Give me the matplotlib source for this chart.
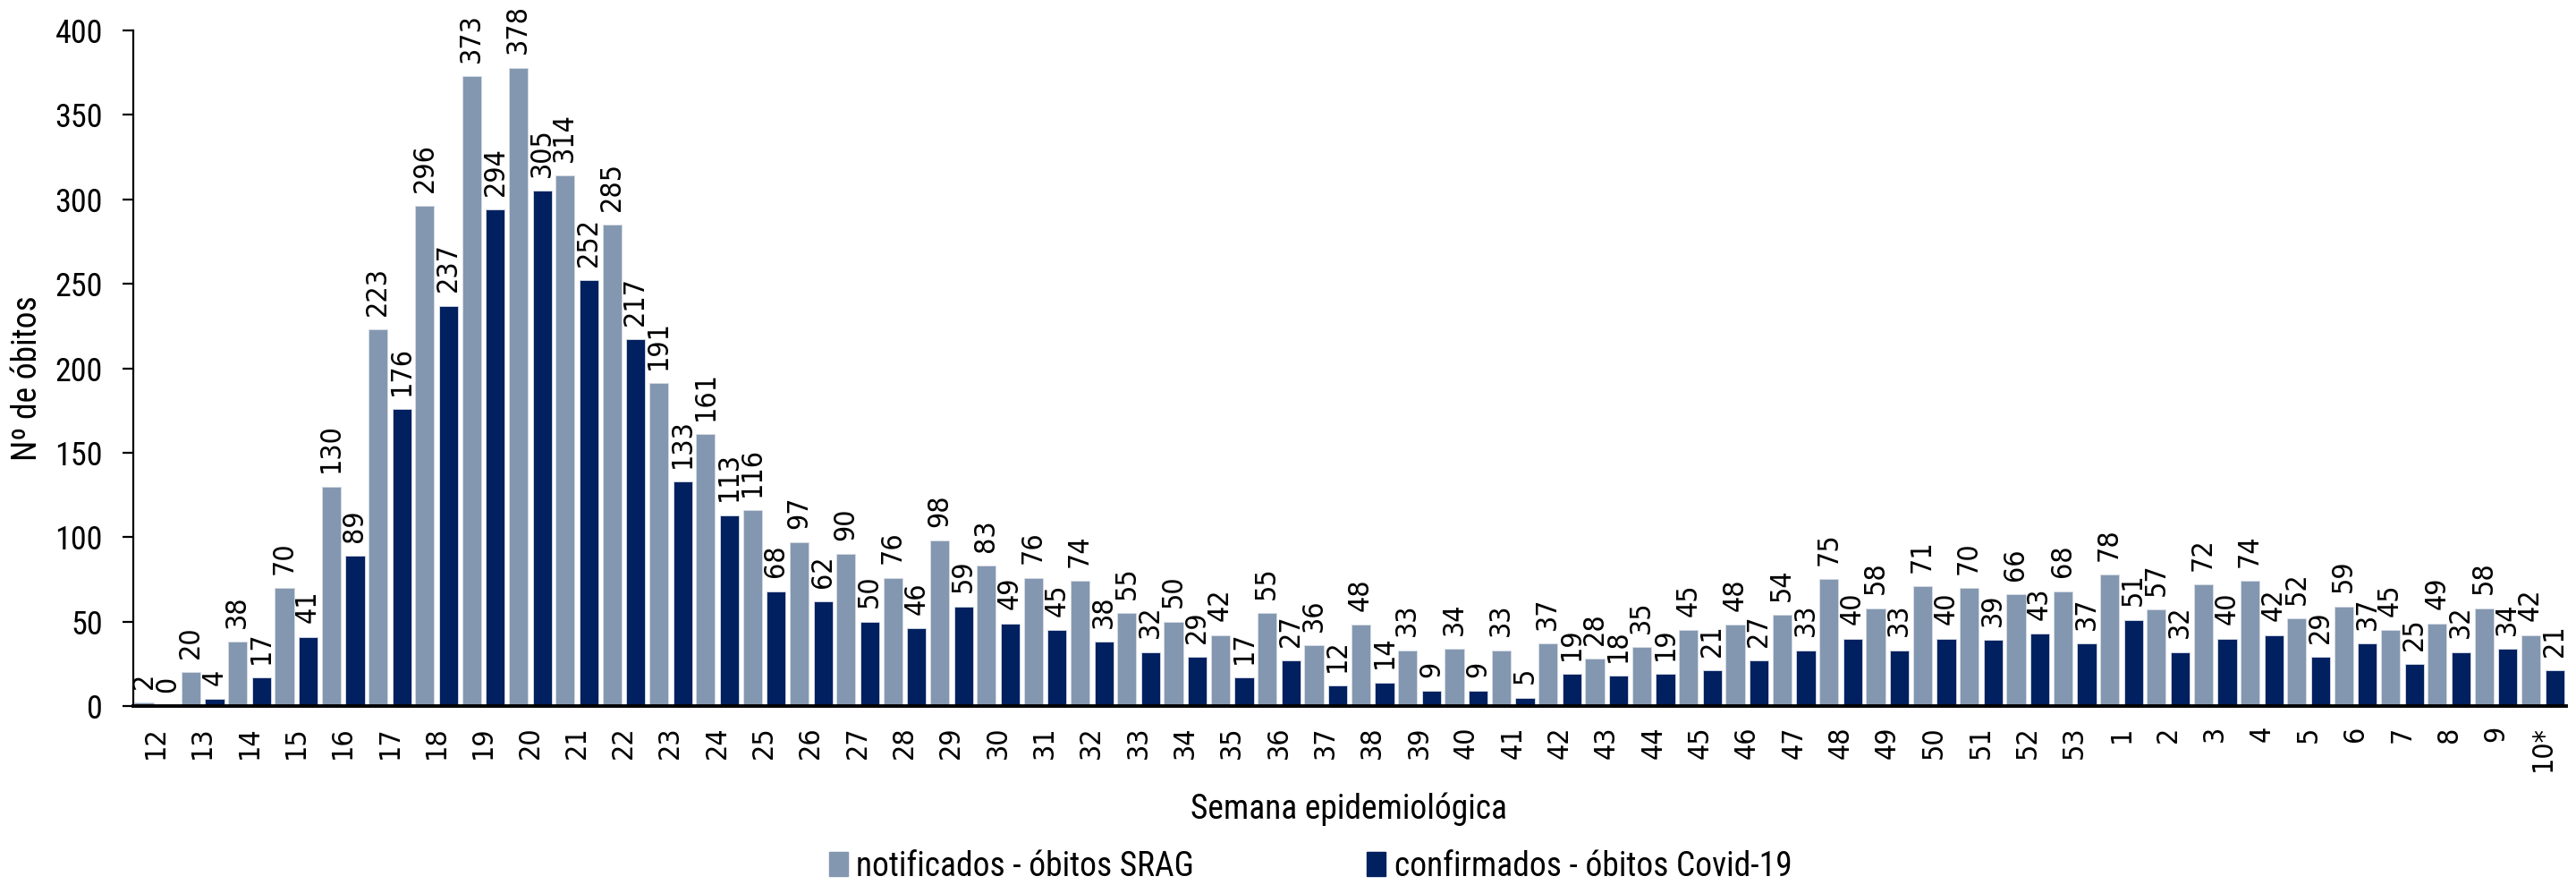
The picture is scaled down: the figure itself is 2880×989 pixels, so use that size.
import numpy as np
import matplotlib.pyplot as plt
from matplotlib import font_manager as fm
from matplotlib.patches import Patch

# Semanas epidemiológicas
semanas = [str(s) for s in range(12, 54)] + [str(s) for s in range(1, 10)] + ["10*"]

# notificados - óbitos SRAG
srag = [2, 20, 38, 70, 130, 223, 296, 373, 378, 314, 285, 191, 161, 116, 97, 90,
        76, 98, 83, 76, 74, 55, 50, 42, 55, 36, 48, 33, 34, 33, 37, 28, 35, 45,
        48, 54, 75, 58, 71, 70, 66, 68, 78, 57, 72, 74, 52, 59, 45, 49, 58, 42]

# confirmados - óbitos Covid-19
covid = [0, 4, 17, 41, 89, 176, 237, 294, 305, 252, 217, 133, 113, 68, 62, 50,
         46, 59, 49, 45, 38, 32, 29, 17, 27, 12, 14, 9, 9, 5, 19, 18, 19, 21,
         27, 33, 40, 33, 40, 39, 43, 37, 51, 32, 40, 42, 29, 37, 25, 32, 34, 21]

cor_srag = "#8497B0"
cor_covid = "#002060"

RUINS = ("bold", "italic", "oblique", "light", "semi", "extra", "medium", "thin", "black")


def procura(prefs):
    # devolve a primeira fonte (regular) encontrada da lista de preferências
    cands = []
    for f in fm.fontManager.ttflist:
        arq = f.fname.lower().replace("-", "").replace("_", "")
        if any(r in arq.split("/")[-1] for r in RUINS):
            continue
        for i, p in enumerate(prefs):
            chave = p.lower().replace(" ", "")
            if chave in arq.split("/")[-1]:
                cands.append((i, f.fname))
    if cands:
        cands.sort()
        return cands[0][1]
    return None


# fonte estreita no lugar da Calibri
arq_calibri = procura(["liberationsansnarrow", "robotocondensed", "opensanscondensed",
                       "notosanscondensed", "dejavusanscondensed"])
if arq_calibri:
    fp = fm.FontProperties(fname=arq_calibri, size=27)
else:
    fp = fm.FontProperties(family="Lato", size=27)

# fonte dos rótulos (DejaVu condensada, se houver)
arq_dv = procura(["dejavusanscondensed"])
if arq_dv:
    fp_rot = fm.FontProperties(fname=arq_dv, size=23)
else:
    fp_rot = fm.FontProperties(family="DejaVu Sans", size=21)

fig = plt.figure(figsize=(28.8, 9.89), dpi=100)
ax = fig.add_axes([0.05174, 0.20222, 0.94444, 0.7634])

x = np.arange(len(semanas))
w = 0.405
off = 0.255
ax.bar(x - off, srag, w, color=cor_srag, edgecolor="#D6DCE5", linewidth=0.6)
ax.bar(x + off, covid, w, color=cor_covid, edgecolor="#D6DCE5", linewidth=0.6)

# rótulos de dados
for xi, v in zip(x - off, srag):
    ax.annotate(str(v), (xi, v), xytext=(0, 11), textcoords="offset points",
                rotation=90, ha="center", va="bottom", fontproperties=fp_rot)
for xi, v in zip(x + off, covid):
    ax.annotate(str(v), (xi, v), xytext=(0, 11), textcoords="offset points",
                rotation=90, ha="center", va="bottom", fontproperties=fp_rot)

ax.set_xlim(-0.483, len(semanas) - 1 + 0.5)
ax.set_ylim(0, 400)
ax.set_yticks(np.arange(0, 401, 50))
ax.set_xticks(x)
ax.set_xticklabels(semanas, rotation=90)
for t in ax.get_xticklabels():
    t.set_fontproperties(fp_rot)
ax.tick_params(axis="x", length=0, pad=16)
ax.tick_params(axis="y", length=8.5, width=1.6, pad=16)
for t in ax.get_yticklabels():
    t.set_fontproperties(fp)
    t.set_fontsize(26)

ax.spines["top"].set_visible(False)
ax.spines["right"].set_visible(False)
ax.spines["left"].set_linewidth(1.6)
ax.spines["bottom"].set_linewidth(2.8)

fig.text(0.004, 0.573, "Nº de óbitos", rotation=90, ha="left", va="center",
         fontproperties=fp)
fig.text(0.5236, 0.086, "Semana epidemiológica", ha="center", va="center",
         fontproperties=fp)

nomes = ["notificados - óbitos SRAG", "confirmados - óbitos Covid-19"]
cores = [cor_srag, cor_covid]
pos_x = [0.3219, 0.5306]
for px, nome, cor in zip(pos_x, nomes, cores):
    fig.legend([Patch(color=cor)], [nome], loc="center left",
               bbox_to_anchor=(px, 0.021), frameon=False, borderpad=0,
               borderaxespad=0, prop=fp,
               handlelength=0.56, handleheight=0.75, handletextpad=0.25)

fig.savefig("out.png", dpi=100)
